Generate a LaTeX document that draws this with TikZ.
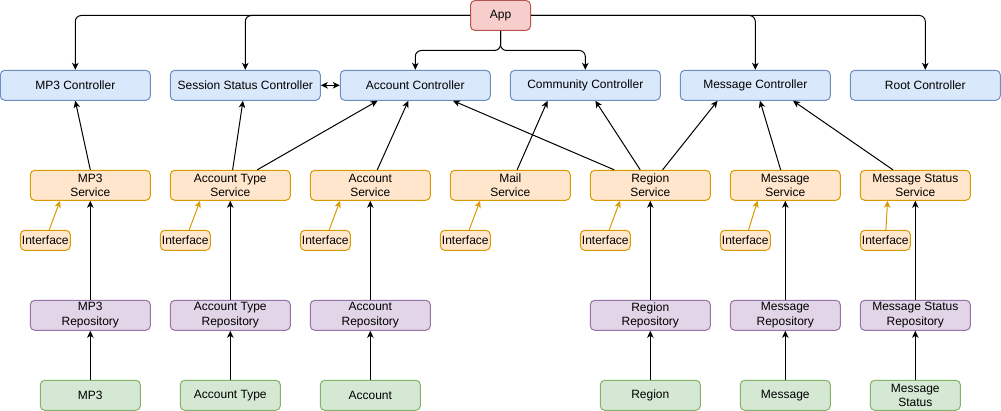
\documentclass[tikz,border=0pt]{standalone}
\usepackage{fontspec}
\setmainfont{Liberation Sans}
\usetikzlibrary{arrows.meta,calc}
\definecolor{bluef}{HTML}{DAE8FC}\definecolor{blued}{HTML}{6C8EBF}
\definecolor{orf}{HTML}{FFE6CC}\definecolor{ord}{HTML}{D79B00}
\definecolor{puf}{HTML}{E1D5E7}\definecolor{pud}{HTML}{9673A6}
\definecolor{grf}{HTML}{D5E8D4}\definecolor{grd}{HTML}{82B366}
\definecolor{ref}{HTML}{F8CECC}\definecolor{red}{HTML}{B85450}
\begin{document}
\begin{tikzpicture}[x=1pt,y=-1pt,
  font=\fontsize{12pt}{14.5pt}\selectfont,
  box/.style={rounded corners=4.5pt,line width=1pt,inner sep=0pt,align=center,minimum height=30pt},
  appbox/.style={box,fill=ref,draw=red,minimum width=60pt},
  ctrl/.style={box,fill=bluef,draw=blued,minimum width=150pt},
  svc/.style={box,fill=orf,draw=ord,minimum width=#1},
  svc/.default=120pt,
  iface/.style={box,fill=orf,draw=ord,minimum width=50pt,minimum height=20pt},
  repo/.style={box,fill=puf,draw=pud,minimum width=#1},
  repo/.default=120pt,
  ent/.style={box,fill=grf,draw=grd,minimum width=#1},
  ent/.default=100pt,
  arr/.style={line width=1pt,-{Stealth[length=7pt,width=6.5pt,inset=2pt]}},
  darr/.style={line width=1pt,{Stealth[length=7pt,width=6.5pt,inset=2pt]}-{Stealth[length=7pt,width=6.5pt,inset=2pt]}},
  iarr/.style={line width=1pt,draw=ord,-{Stealth[length=7pt,width=6.5pt,inset=2pt]}},
  orth/.style={arr,rounded corners=6pt}]
\useasboundingbox (0,0) rectangle (1001,411);
% App
\node[appbox] (app) at (500.5,15.5) {App};
% Controllers
\node[ctrl] (mp3c) at (75.3,85.3) {MP3 Controller};
\node[ctrl] (ssc) at (245.3,85.3) {Session Status Controller};
\node[ctrl] (ac) at (415.3,85.3) {Account Controller};
\node[ctrl] (cc) at (585.3,85.3) {Community Controller};
\node[ctrl] (mc) at (755.3,85.3) {Message Controller};
\node[ctrl] (rc) at (925.3,85.3) {Root Controller};
% Services
\node[svc] (mp3s) at (90.3,185.3) {MP3\\Service};
\node[svc] (ats) at (230.3,185.3) {Account Type\\Service};
\node[svc] (as) at (370.3,185.3) {Account\\Service};
\node[svc] (mls) at (510.3,185.3) {Mail\\Service};
\node[svc] (rs) at (650.3,185.3) {Region\\Service};
\node[svc=110pt] (ms) at (785.3,185.3) {Message\\Service};
\node[svc=110pt] (mss) at (915.3,185.3) {Message Status\\Service};
% Interfaces
\node[iface] (i1) at (45.3,240.3) {Interface};
\node[iface] (i2) at (185.3,240.3) {Interface};
\node[iface] (i3) at (325.3,240.3) {Interface};
\node[iface] (i4) at (465.3,240.3) {Interface};
\node[iface] (i5) at (605.3,240.3) {Interface};
\node[iface] (i6) at (745.3,240.3) {Interface};
\node[iface] (i7) at (885.3,240.3) {Interface};
% Repositories
\node[repo] (mp3r) at (90.3,315.3) {MP3\\Repository};
\node[repo] (atr) at (230.3,315.3) {Account Type\\Repository};
\node[repo] (ar) at (370.3,315.3) {Account\\Repository};
\node[repo] (rr) at (650.3,315.3) {Region\\Repository};
\node[repo=110pt] (mr) at (785.3,315.3) {Message\\Repository};
\node[repo=110pt] (msr) at (915.3,315.3) {Message Status\\Repository};
% Entities
\node[ent] (mp3e) at (90.3,395.3) {MP3};
\node[ent] (ate) at (230.3,395.3) {Account Type};
\node[ent] (ae) at (370.3,395.3) {Account};
\node[ent] (re) at (650.3,395.3) {Region};
\node[ent=90pt] (me) at (785.3,395.3) {Message};
\node[ent=90pt] (mse) at (915.3,395.3) {Message\\Status};
% App edges
\draw[orth] (app.west) -| (mp3c.north);
\draw[orth] (app.west) -| (ssc.north);
\draw[orth] (app.south) -- ++(0,19.5) -| (ac.north);
\draw[orth] (app.south) -- ++(0,19.5) -| (cc.north);
\draw[orth] (app.east) -| (mc.north);
\draw[orth] (app.east) -| (rc.north);
% Controller link
\draw[darr] (ssc.east) -- (ac.west);
% Service -> controller
\draw[arr] (mp3s.north) -- (mp3c.south);
\draw[arr] (ats) -- (ssc);
\draw[arr] (ats) -- ($(ac.south west)!0.25!(ac.south east)$);
\draw[arr] (as) -- (ac);
\draw[arr] (mls) -- ($(cc.south west)!0.25!(cc.south east)$);
\draw[arr] (rs) -- ($(ac.south west)!0.75!(ac.south east)$);
\draw[arr] (rs) -- (cc);
\draw[arr] (rs) -- ($(mc.south west)!0.25!(mc.south east)$);
\draw[arr] (ms) -- (mc);
\draw[arr] (mss) -- ($(mc.south west)!0.75!(mc.south east)$);
% Interface -> service
\draw[iarr] (i1) -- ($(mp3s.south west)!0.25!(mp3s.south east)$);
\draw[iarr] (i2) -- ($(ats.south west)!0.25!(ats.south east)$);
\draw[iarr] (i3) -- ($(as.south west)!0.25!(as.south east)$);
\draw[iarr] (i4) -- ($(mls.south west)!0.25!(mls.south east)$);
\draw[iarr] (i5) -- ($(rs.south west)!0.25!(rs.south east)$);
\draw[iarr] (i6) -- ($(ms.south west)!0.25!(ms.south east)$);
\draw[iarr] (i7) -- ($(mss.south west)!0.25!(mss.south east)$);
% Repository -> service
\draw[arr] (mp3r) -- (mp3s);
\draw[arr] (atr) -- (ats);
\draw[arr] (ar) -- (as);
\draw[arr] (rr) -- (rs);
\draw[arr] (mr) -- (ms);
\draw[arr] (msr) -- (mss);
% Entity -> repository
\draw[arr] (mp3e) -- (mp3r);
\draw[arr] (ate) -- (atr);
\draw[arr] (ae) -- (ar);
\draw[arr] (re) -- (rr);
\draw[arr] (me) -- (mr);
\draw[arr] (mse) -- (msr);
\end{tikzpicture}
\end{document}
